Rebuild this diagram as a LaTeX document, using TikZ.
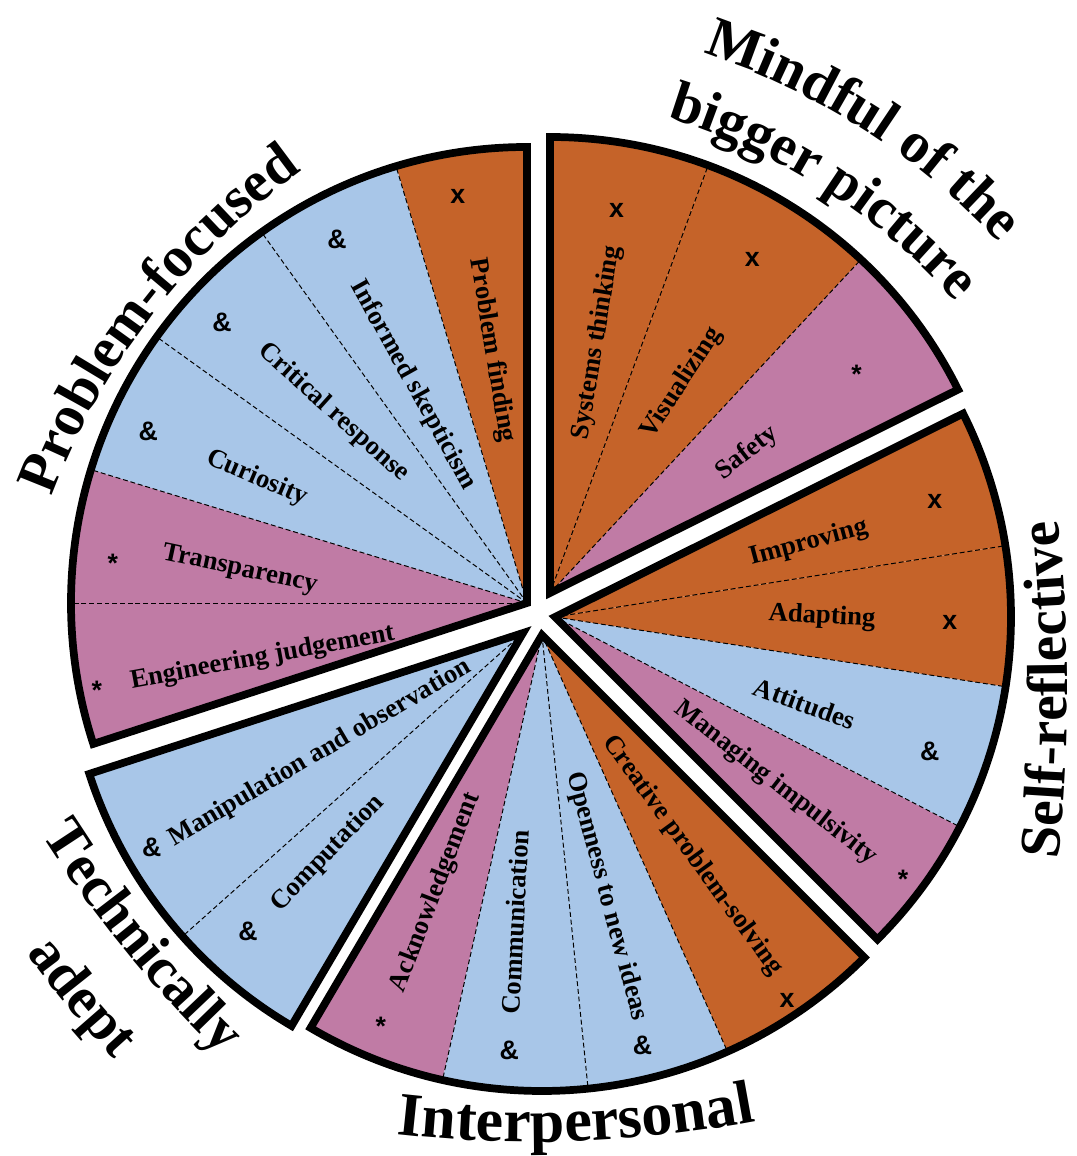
\documentclass[tikz,border=0pt]{standalone}
\usepackage{fontspec}
\setmainfont{Liberation Serif}
\newfontfamily\marksans{Liberation Sans}
\usetikzlibrary{decorations.text}
\definecolor{skillorange}{RGB}{197,99,41}
\definecolor{skillblue}{RGB}{168,198,232}
\definecolor{skillpink}{RGB}{192,123,165}
\newcommand\pierad{11.4}
\newcommand\ttlfont{\fontsize{41}{41}\selectfont\bfseries}
\newcommand\ipfont{\fontsize{44}{44}\selectfont\bfseries}

\begin{document}
\begin{tikzpicture}[
    rim/.style={draw=black, line width=5.5pt, line join=miter},
    sep/.style={black, line width=0.7pt, dash pattern=on 3.5pt off 2pt},
    lbl/.style={font=\fontsize{19}{19}\selectfont\bfseries, inner sep=0pt},
    mk/.style={font=\marksans\fontsize{19}{19}\selectfont\bfseries, inner sep=0pt},
    ttl/.style={decorate, decoration={text along path, text align=center, text={|\ttlfont|#1}}},
    ipttl/.style={decorate, decoration={text along path, text align=center, text={|\ipfont|#1}}}
]
\useasboundingbox (-13.5,-13.6) rectangle (13.4,15.3);

% problem-focused
\coordinate (pf) at (-0.325,0.225);
\foreach \a/\b/\c in {90/106.7/skillorange, 106.7/125.6/skillblue, 125.6/144.3/skillblue,
    144.3/163/skillblue, 163/180/skillpink, 180/198/skillpink}
  \fill[fill=\c] (pf) -- ++(\a:\pierad) arc[start angle=\a, end angle=\b, radius=\pierad] -- cycle;
\foreach \a in {106.7,125.6,144.3,163,180}
  \draw[sep] (pf) -- ++(\a:\pierad);
\draw[rim] (pf) -- ++(90:\pierad) arc[start angle=90, end angle=198, radius=\pierad] -- cycle;

% mindful of the bigger picture
\coordinate (mb) at (0.25,0.475);
\foreach \a/\b/\c in {26.5/47/skillpink, 47/69.7/skillorange, 69.7/90/skillorange}
  \fill[fill=\c] (mb) -- ++(\a:\pierad) arc[start angle=\a, end angle=\b, radius=\pierad] -- cycle;
\foreach \a in {47,69.7}
  \draw[sep] (mb) -- ++(\a:\pierad);
\draw[rim] (mb) -- ++(26.5:\pierad) arc[start angle=26.5, end angle=90, radius=\pierad] -- cycle;

% self-reflective
\coordinate (sr) at (0.375,-0.125);
\foreach \a/\b/\c in {-45/-27.4/skillpink, -27.4/-8.8/skillblue, -8.8/9/skillorange, 9/26.5/skillorange}
  \fill[fill=\c] (sr) -- ++(\a:\pierad) arc[start angle=\a, end angle=\b, radius=\pierad] -- cycle;
\foreach \a in {-27.4,-8.8,9}
  \draw[sep] (sr) -- ++(\a:\pierad);
\draw[rim] (sr) -- ++(-45:\pierad) arc[start angle=-45, end angle=26.5, radius=\pierad] -- cycle;

% interpersonal
\coordinate (ip) at (0.05,-0.575);
\foreach \a/\b/\c in {239.5/257.4/skillpink, 257.4/275.8/skillblue, 275.8/294/skillblue, 294/315/skillorange}
  \fill[fill=\c] (ip) -- ++(\a:\pierad) arc[start angle=\a, end angle=\b, radius=\pierad] -- cycle;
\foreach \a in {257.4,275.8,294}
  \draw[sep] (ip) -- ++(\a:\pierad);
\draw[rim] (ip) -- ++(239.5:\pierad) arc[start angle=239.5, end angle=315, radius=\pierad] -- cycle;

% technically adept
\coordinate (ta) at (-0.425,-0.525);
\foreach \a/\b/\c in {198/221.7/skillblue, 221.7/239.5/skillblue}
  \fill[fill=\c] (ta) -- ++(\a:\pierad) arc[start angle=\a, end angle=\b, radius=\pierad] -- cycle;
\draw[sep] (ta) -- ++(221.7:\pierad);
\draw[rim] (ta) -- ++(198:\pierad) arc[start angle=198, end angle=239.5, radius=\pierad] -- cycle;

% slice labels
\node[lbl, rotate=-80.7] (pfind) at (100.4:6.65) {Problem finding};
\node[lbl, rotate=-61] (infsk) at (119.2:6.5) {Informed skepticism};
\node[lbl, rotate=-42] (critr) at (136:7.18) {Critical response};
\node[lbl, rotate=-23] (curio) at (154.7:7.83) {Curiosity};
\node[lbl, rotate=-12] (trans) at (172:7.58) {Transparency};
\node[lbl, rotate=10.4] (engj) at (189.4:7.03) {Engineering judgement};
\node[lbl, rotate=80.6] (systh) at (78:6.88) {Systems thinking};
\node[lbl, rotate=57] (visu) at (58.2:6.73) {Visualizing};
\node[lbl, rotate=38] (safe) at (37.5:6.53) {Safety};
\node[lbl, rotate=15] (impr) at (14.4:6.93) {Improving};
\node[lbl, rotate=-3] (adap) at (-1:7.05) {Adapting};
\node[lbl, rotate=-20] (attit) at (-19.1:7.0) {Attitudes};
\node[lbl, rotate=-38] (mimp) at (-36:7.28) {Managing impulsivity};
\node[lbl, rotate=-54] (creat) at (-58:7.18) {Creative problem-solving};
\node[lbl, rotate=-75] (open) at (-76.8:7.3) {Openness to new ideas};
\node[lbl, rotate=87] (comm) at (265.4:7.78) {Communication};
\node[lbl, rotate=69] (ackn) at (249.6:7.48) {Acknowledgement};
\node[lbl, rotate=30.5] (manip) at (212.7:6.53) {Manipulation and observation};
\node[lbl, rotate=46] (compu) at (228.7:8.03) {Computation};

% marks
\node[mk] (pfindm) at (101.2:10.58) {x};
\node[mk] (infskm) at (118.6:10.6) {\&};
\node[mk] (critrm) at (137.7:10.75) {\&};
\node[mk] (curiom) at (155.3:10.78) {\&};
\node[mk] (transm) at (173.5:10.75) {*};
\node[mk] (engjm) at (190:11.25) {*};
\node[mk] (systhm) at (79.2:10.23) {x};
\node[mk] (visum) at (58.9:10.28) {x};
\node[mk] (safem) at (36.9:9.9) {*};
\node[mk] (imprm) at (15.6:10.25) {x};
\node[mk] (adapm) at (-1.4:10.25) {x};
\node[mk] (attitm) at (-19.7:10.35) {\&};
\node[mk] (mimpm) at (-36.4:11.28) {*};
\node[mk] (creatm) at (-57.5:11.5) {x};
\node[mk] (openm) at (-76.7:11.13) {\&};
\node[mk] (commm) at (266:10.98) {\&};
\node[mk] (acknm) at (249:11.1) {*};
\node[mk] (manipm) at (211.2:11.35) {\&};
\node[mk] (compum) at (227.6:10.83) {\&};

% group titles
\coordinate (pfarc) at (4.2,-3.225);
\coordinate (mbarc) at (-1.35,-2.675);
\coordinate (srarc) at (-26.82,-1.95);
\coordinate (iparc) at (-0.175,16.75);
\coordinate (taarc) at (12.875,10.5);
\path[ttl=Problem-focused] ([shift={(172.5:17.5)}]pfarc) arc[start angle=172.5, end angle=112.5, radius=17.5];
\path[ttl=Mindful of the] ([shift={(87.4:17.5)}]mbarc) arc[start angle=87.4, end angle=27.4, radius=17.5];
\path[ttl=bigger picture] ([shift={(87.4:15.7)}]mbarc) arc[start angle=87.4, end angle=27.4, radius=15.7];
\path[ttl=Self-reflective] ([shift={(-15:40)}]srarc) arc[start angle=-15, end angle=15, radius=40];
\path[ipttl=Interpersonal] ([shift={(257.1:30)}]iparc) arc[start angle=257.1, end angle=287.1, radius=30];
\path[ttl=Technically] ([shift={(204.2:30)}]taarc) arc[start angle=204.2, end angle=234.2, radius=30];
\path[ttl=adept] ([shift={(204.6:32)}]taarc) arc[start angle=204.6, end angle=234.6, radius=32];
\end{tikzpicture}
\end{document}
